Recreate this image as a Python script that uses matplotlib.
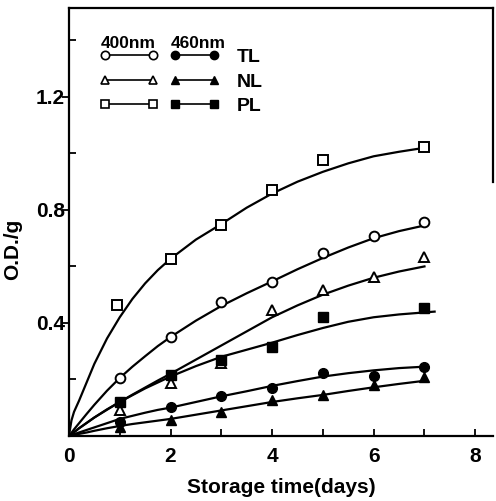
import matplotlib.pyplot as plt
from matplotlib.ticker import MultipleLocator

plt.rcParams['font.family'] = ['Liberation Sans', 'DejaVu Sans']
plt.rcParams['font.weight'] = 'bold'

# measured points (days, O.D./g)
days = [1, 2, 3, 4, 5, 6, 7]
tl_400 = [0.205, 0.35, 0.474, 0.545, 0.648, 0.708, 0.758]
nl_400 = [0.09, 0.187, 0.257, 0.446, 0.517, 0.564, 0.634]
pl_400_days = [0.94, 2, 3, 4, 5, 7]
pl_400 = [0.464, 0.627, 0.747, 0.87, 0.977, 1.023]
tl_460 = [0.05, 0.103, 0.142, 0.17, 0.223, 0.212, 0.244]
nl_460 = [0.03, 0.057, 0.085, 0.127, 0.145, 0.18, 0.21]
pl_460_days = [1, 2, 3, 4, 5, 7]
pl_460 = [0.12, 0.216, 0.27, 0.315, 0.42, 0.453]

# hand-drawn fitted curves
fit_x = [0, 0.05, 0.1, 0.2, 0.35, 0.5, 0.75, 1, 1.25, 1.5, 1.75, 2, 2.5, 3,
         3.5, 4, 4.5, 5, 5.5, 6, 6.5, 7]
fit_pl_400 = [0, 0.055, 0.085, 0.125, 0.19, 0.255, 0.345, 0.42, 0.485, 0.54,
              0.587, 0.627, 0.695, 0.75, 0.808, 0.858, 0.9, 0.935, 0.965,
              0.99, 1.006, 1.02]
fit_tl_400 = [0, 0.011, 0.023, 0.045, 0.078, 0.11, 0.16, 0.205, 0.245, 0.282,
              0.318, 0.35, 0.408, 0.46, 0.505, 0.547, 0.59, 0.63, 0.667,
              0.70, 0.725, 0.745]
fit_nl_400 = [0, 0.006, 0.013, 0.027, 0.046, 0.065, 0.094, 0.12, 0.146, 0.171,
              0.196, 0.22, 0.27, 0.32, 0.37, 0.42, 0.462, 0.50, 0.532,
              0.56, 0.582, 0.60]
fit_tl_460 = [0, 0.003, 0.006, 0.012, 0.021, 0.03, 0.045, 0.06, 0.071, 0.082,
              0.092, 0.10, 0.12, 0.14, 0.158, 0.177, 0.194, 0.21, 0.222,
              0.232, 0.24, 0.245]
fit_nl_460 = [0, 0.0018, 0.0036, 0.007, 0.012, 0.018, 0.027, 0.035, 0.042,
              0.048, 0.054, 0.06, 0.075, 0.09, 0.105, 0.12, 0.133, 0.145,
              0.159, 0.172, 0.184, 0.195]
fit_pl_460_x = [0, 0.1, 0.2, 0.5, 1, 1.5, 2, 2.5, 3, 3.5, 4, 4.5, 5, 5.5, 6,
                6.5, 7.2]
fit_pl_460 = [0, 0.013, 0.027, 0.065, 0.12, 0.168, 0.21, 0.247, 0.28, 0.305,
              0.33, 0.357, 0.382, 0.404, 0.42, 0.43, 0.44]

fig = plt.figure(figsize=(4.96, 5.01), dpi=100)
ax = fig.add_axes([0.139, 0.130, 0.855, 0.854])

lw = 1.6
ms = 7
open_kw = dict(color='black', mfc='white', mec='black', mew=1.4, ms=ms, ls='none')
fill_kw = dict(color='black', mfc='black', mec='black', ms=ms, ls='none')

ax.plot(fit_x, fit_pl_400, color='black', lw=lw)
ax.plot(fit_x, fit_tl_400, color='black', lw=lw)
ax.plot(fit_x, fit_nl_400, color='black', lw=lw)
ax.plot(fit_pl_460_x, fit_pl_460, color='black', lw=lw)
ax.plot(fit_x, fit_tl_460, color='black', lw=lw)
ax.plot(fit_x, fit_nl_460, color='black', lw=lw)

ax.plot(pl_400_days, pl_400, marker='s', **open_kw)
ax.plot(days, tl_400, marker='o', **open_kw)
ax.plot(days, nl_400, marker='^', **open_kw)
ax.plot(pl_460_days, pl_460, marker='s', **fill_kw)
ax.plot(days, tl_460, marker='o', **fill_kw)
ax.plot(days, nl_460, marker='^', **fill_kw)

# legend: 400nm column (open) and 460nm column (filled, with labels)
h_open = [plt.Line2D([], [], color='black', lw=1.2, marker=m, mfc='white',
                     mec='black', mew=1.2, ms=6) for m in ['o', '^', 's']]
h_fill = [plt.Line2D([], [], color='black', lw=1.2, marker=m, mfc='black',
                     mec='black', ms=6) for m in ['o', '^', 's']]
leg_kw = dict(numpoints=2, loc='upper left', frameon=False, borderpad=0,
              borderaxespad=0, labelspacing=0.35, handletextpad=0.89,
              prop={'size': 14, 'weight': 'bold'})
leg1 = ax.legend(h_open, ['', '', ''], bbox_to_anchor=(0.071, 0.905),
                 handlelength=3.07, **leg_kw)
ax.add_artist(leg1)
ax.legend(h_fill, ['TL', 'NL', 'PL'], bbox_to_anchor=(0.236, 0.905),
          handlelength=2.6, **leg_kw)
ax.text(0.074, 0.918, '400nm', transform=ax.transAxes, fontsize=12.5,
        fontweight='bold', va='center', ha='left')
ax.text(0.239, 0.918, '460nm', transform=ax.transAxes, fontsize=12.5,
        fontweight='bold', va='center', ha='left')

ax.set_xlim(0, 8.35)
ax.set_ylim(0, 1.515)
ax.xaxis.set_major_locator(MultipleLocator(2))
ax.xaxis.set_minor_locator(MultipleLocator(1))
ax.yaxis.set_minor_locator(MultipleLocator(0.2))
ax.set_yticks([0.4, 0.8, 1.2])
ax.set_yticklabels(['0.4', '0.8', '1.2'])
ax.tick_params(axis='x', which='both', direction='in', length=5, width=1.3,
               labelsize=15, pad=8)
ax.tick_params(axis='y', which='major', direction='out', length=5, width=1.3,
               labelsize=15, pad=-2)
ax.tick_params(axis='y', which='minor', direction='in', length=5, width=1.3)

for s in ['left', 'bottom', 'top', 'right']:
    ax.spines[s].set_linewidth(1.6)
ax.spines['right'].set_bounds(0.9, 1.515)

ax.set_xlabel('Storage time(days)', fontsize=15, fontweight='bold', labelpad=9)
ax.set_ylabel('O.D./g', fontsize=15, fontweight='bold')
ax.yaxis.set_label_coords(-0.111, 0.435)

fig.savefig('out.png', dpi=100)
